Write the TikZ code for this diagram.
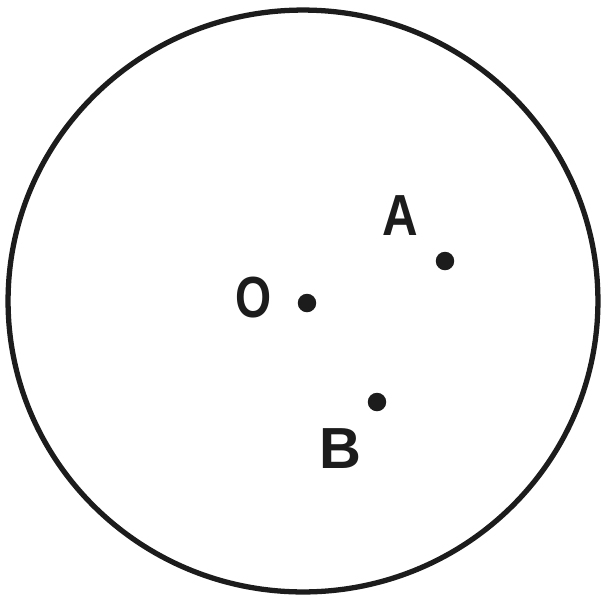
\documentclass[tikz,border=0pt]{standalone}
\usepackage{fontspec}
\setsansfont{Liberation Sans}
\usepackage{xcolor}
\usepackage{tikz}
\definecolor{figline}{RGB}{28,28,28}
\tikzset{
  rim/.style ={draw=figline, line width=3pt},
  pt/.style  ={circle, fill=figline, inner sep=0pt, minimum size=0.37cm},
  lab/.style ={font=\sffamily\bfseries\fontsize{33}{33}\selectfont, text=figline, inner sep=0pt},
}

\begin{document}
\begin{tikzpicture}[x=0.02cm,y=-0.02cm]
  \useasboundingbox (0,0) rectangle (603,600);
  \fill[white] (0,0) rectangle (603,600);
  \draw[rim] (303,301) ellipse [x radius=5.9cm, y radius=5.82cm];
  % points
  \node[pt] (o) at (307,303) {};
  \node[pt] (a) at (445,261) {};
  \node[pt] (b) at (377,402) {};
  % labels
  \node[lab, xscale=0.8] (ol) at (254,298) {O};
  \node[lab, xscale=0.85] (al) at (400,216) {A};
  \node[lab] (bl) at (340,449) {B};
\end{tikzpicture}
\end{document}
